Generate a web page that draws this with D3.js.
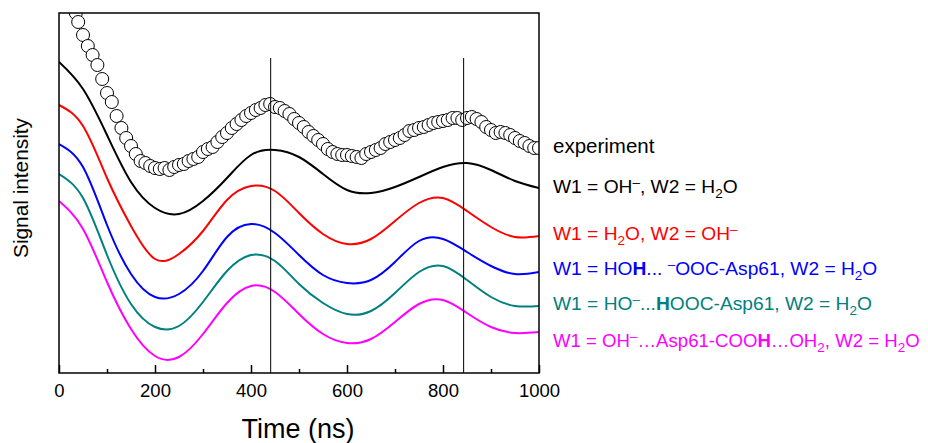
<!DOCTYPE html>
<html>
<head>
<meta charset="utf-8">
<script src="https://cdn.jsdelivr.net/npm/d3@7"></script>
<style>
  body { margin: 0; background: #fff; }
  text { font-family: Arial, "Liberation Sans", sans-serif; }
</style>
</head>
<body>
<script>
// simulated curves, sampled every 50 ns (arbitrary intensity units)
const times = [0, 50, 100, 150, 200, 250, 300, 350, 400, 450, 500, 550, 600, 650, 700, 750, 800, 850, 900, 950, 1000];
const ohH2o = [31.1, 28.4, 23.8, 19.1, 16.5, 15.9, 17.2, 19.5, 21.8, 22.3, 21.6, 19.9, 18.3, 18.0, 18.6, 19.6, 20.6, 21.0, 20.3, 19.2, 18.5];
const h2oOh = [26.8, 24.7, 19.5, 14.7, 11.4, 11.9, 14.2, 17.3, 18.7, 18.2, 16.0, 13.9, 12.9, 13.4, 15.2, 17.0, 17.5, 16.2, 14.6, 13.6, 13.7];
const hohOoc = [22.9, 20.6, 14.8, 9.9, 7.6, 7.9, 10.2, 13.6, 14.9, 14.0, 11.8, 9.8, 9.0, 9.3, 11.1, 13.2, 13.4, 12.1, 10.7, 9.9, 10.1];
const hoHooc = [19.9, 17.5, 11.8, 6.9, 4.6, 4.7, 7.1, 10.2, 11.8, 11.2, 8.9, 7.0, 5.9, 6.2, 8.0, 10.1, 10.7, 9.3, 7.6, 6.7, 6.7];
const ohAspCooh = [17.2, 14.4, 9.1, 4.4, 1.7, 1.6, 3.9, 7.0, 8.7, 8.1, 5.9, 3.9, 3.0, 3.4, 5.1, 6.9, 7.3, 6.0, 4.6, 4.0, 4.1];

// experiment
const expTimes = [35, 40, 50, 60, 70, 80, 90, 100, 110, 120, 130, 140, 150, 160, 170, 180, 190, 200, 210, 220,
  230, 240, 250, 260, 270, 280, 290, 300, 310, 320, 330, 340, 350, 360, 370, 380, 390, 400, 410, 420,
  430, 440, 450, 460, 470, 480, 490, 500, 510, 520, 530, 540, 550, 560, 570, 580, 590, 600, 610, 620,
  630, 640, 650, 660, 670, 680, 690, 700, 710, 720, 730, 740, 750, 760, 770, 780, 790, 800, 810, 820,
  830, 840, 850, 860, 870, 880, 890, 900, 910, 920, 930, 940, 950, 960, 970, 980, 990, 1000];
const expValues = [36.0, 35.1, 33.8, 32.7, 31.8, 30.8, 29.4, 28.0, 27.1, 25.7, 24.5, 23.5, 22.7, 21.9, 21.2, 21.0, 20.7, 20.5, 20.4, 20.5,
  20.3, 20.6, 20.8, 20.9, 21.2, 21.4, 21.6, 22.1, 22.4, 22.6, 23.1, 23.6, 24.0, 24.5, 24.9, 25.3, 25.7, 26.0, 26.3, 26.5,
  26.8, 26.9, 26.6, 26.5, 26.2, 25.9, 25.4, 25.0, 24.6, 24.1, 23.7, 23.3, 22.9, 22.4, 22.1, 21.9, 21.8, 21.8, 21.7, 21.6,
  21.5, 21.9, 22.1, 22.3, 22.5, 22.9, 23.1, 23.3, 23.5, 23.8, 24.2, 24.3, 24.5, 24.6, 24.8, 25.0, 25.1, 25.2, 25.3, 25.5,
  25.5, 25.3, 25.5, 25.6, 25.4, 25.1, 24.6, 24.3, 24.0, 24.1, 24.0, 23.8, 23.5, 23.2, 23.0, 22.7, 22.5, 22.5];

const markerTimes = [441, 843];
const markerTop = 31.5;
const majorTicks = [0, 200, 400, 600, 800, 1000];
const minorTicks = [100, 300, 500, 700, 900];

// _{} subscript, ^{} superscript, *{} bold
const labels = ['experiment',
  'W1 = OH^{–}, W2 = H_{2}O',
  'W1 = H_{2}O, W2 = OH^{–}',
  'W1 = HO*{H}... ^{–}OOC-Asp61, W2 = H_{2}O',
  'W1 = HO^{–}...*{H}OOC-Asp61, W2 = H_{2}O',
  'W1 = OH^{–}…Asp61-COO*{H}…OH_{2}, W2 = H_{2}O'];
const colors = ['#000000', '#000000', '#ff0000', '#0000ff', '#008080', '#ff00ff'];

const series = [ohH2o, h2oOh, hohOoc, hoHooc, ohAspCooh];

document.addEventListener('DOMContentLoaded', () => {
  const w = 928;
  const h = 443;
  const left = 59, right = 539, top = 13, bottom = 373;

  const xScale = d3.scaleLinear().domain([0, 1000]).range([left, right]);
  const yScale = d3.scaleLinear().domain([0, 36]).range([bottom, top]);

  const svg = d3.select('body')
                .append('svg')
                .attr('width', w)
                .attr('height', h);

  svg.append('clipPath').attr('id', 'plot-clip')
     .append('rect').attr('x', left).attr('y', top).attr('width', right - left).attr('height', bottom - top);

  const line = d3.line()
                 .x((d, i) => xScale(times[i]))
                 .y((d) => yScale(d))
                 .curve(d3.curveNatural);

  svg.append('g')
     .attr('clip-path', 'url(#plot-clip)')
     .selectAll('path')
     .data(series)
     .enter()
     .append('path')
     .attr('d', (d) => line(d))
     .attr('fill', 'none')
     .attr('stroke', (d, i) => colors[i + 1])
     .attr('stroke-width', 2);

  svg.append('g')
     .attr('clip-path', 'url(#plot-clip)')
     .selectAll('circle')
     .data(expValues)
     .enter()
     .append('circle')
     .attr('cx', (d, i) => xScale(expTimes[i]))
     .attr('cy', (d) => yScale(d))
     .attr('r', 6.5)
     .attr('fill', '#fff')
     .attr('stroke', '#000')
     .attr('stroke-width', 1);

  svg.selectAll('.marker')
     .data(markerTimes)
     .enter()
     .append('line')
     .attr('class', 'marker')
     .attr('x1', (d) => xScale(d))
     .attr('x2', (d) => xScale(d))
     .attr('y1', yScale(markerTop))
     .attr('y2', yScale(0))
     .attr('stroke', '#000')
     .attr('stroke-width', 1);

  svg.append('rect')
     .attr('x', left).attr('y', top)
     .attr('width', right - left).attr('height', bottom - top)
     .attr('fill', 'none')
     .attr('stroke', '#000')
     .attr('stroke-width', 1.5);

  const xAxis = d3.axisBottom(xScale).tickValues(majorTicks).tickSizeInner(-8).tickSizeOuter(0).tickPadding(11).tickFormat(d3.format('d'));
  const xMinor = d3.axisBottom(xScale).tickValues(minorTicks).tickSizeInner(-4).tickSizeOuter(0).tickFormat('');

  const gx = svg.append('g').attr('id', 'x-axis').attr('transform', 'translate(0,' + bottom + ')').call(xAxis);
  const gm = svg.append('g').attr('transform', 'translate(0,' + bottom + ')').call(xMinor);
  [gx, gm].forEach((g) => {
    g.select('.domain').remove();
    g.selectAll('line').attr('stroke', '#000').attr('stroke-width', 1.5);
  });
  gx.selectAll('text').attr('font-size', 18.5).attr('fill', '#000').style('font-family', 'Arial, "Liberation Sans", sans-serif');

  svg.append('text').text('Time (ns)')
     .attr('x', 298).attr('y', 438)
     .attr('text-anchor', 'middle')
     .attr('font-size', 27);

  svg.append('text').text('Signal intensity')
     .attr('text-anchor', 'middle')
     .attr('font-size', 20.8)
     .attr('transform', 'translate(28, 188)rotate(-90)');

  // legend labels with sub/superscripts
  const labelY = [153, 193, 240, 275, 310, 347];
  const labelSize = [20.5, 19.2, 19.2, 19.2, 19.2, 18.6];
  labels.forEach((str, i) => {
    const t = svg.append('text')
                 .attr('x', 553).attr('y', labelY[i])
                 .attr('font-size', labelSize[i])
                 .attr('fill', colors[i]);
    let shift = 0;
    str.split(/([_^*]\{[^}]*\})/).filter((s) => s !== '').forEach((part) => {
      const m = part.match(/^([_^*])\{([^}]*)\}$/);
      const kind = m ? m[1] : '';
      const span = t.append('tspan').text(m ? m[2] : part);
      const target = kind === '_' ? 5 : kind === '^' ? -6 : 0;
      if (target !== shift) span.attr('dy', target - shift);
      shift = target;
      if (kind === '_' || kind === '^') span.attr('font-size', 13.5);
      if (kind === '*') span.attr('font-weight', 'bold');
    });
  });
});
</script>
</body>
</html>
